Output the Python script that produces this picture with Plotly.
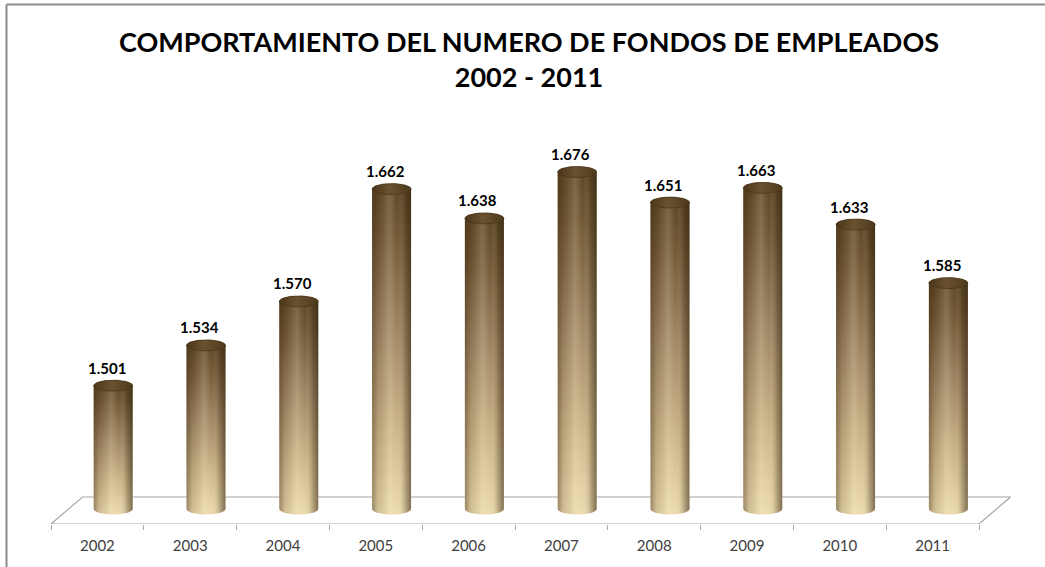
import numpy as np
import plotly.graph_objects as go

# Data
years = ["2002", "2003", "2004", "2005", "2006", "2007", "2008", "2009", "2010", "2011"]
fondos = [1501, 1534, 1570, 1662, 1638, 1676, 1651, 1663, 1633, 1585]
value_labels = ["1.501", "1.534", "1.570", "1.662", "1.638", "1.676", "1.651", "1.663", "1.633", "1.585"]

# Layout geometry
W, H = 1045, 567
M_L, M_R, M_T, M_B = 42, 29, 120, 43
PX_PER_CAT = 92.8
PX_PER_VAL = 1.221
plot_w = W - M_L - M_R
plot_h = H - M_T - M_B

BASE = 1400                       # floor level of the cylinders
FRONT = BASE - 15 / PX_PER_VAL    # front edge of the floor
BACK = BASE + 12 / PX_PER_VAL     # back edge of the floor
DEPTH_DX = 0.34                   # horizontal shift of the floor's back edge
x0 = -0.5 - 9 / PX_PER_CAT
x_range = [x0, x0 + plot_w / PX_PER_CAT]
y_range = [FRONT, FRONT + plot_h / PX_PER_VAL]

OFFSET = 0.17        # cylinders sit mid-depth, slightly right of the label
HALF_W = 0.21        # cylinder radius in category units
ELL = 5.5 / PX_PER_VAL  # ellipse half-height in value units

fig = go.Figure()

# Floor (3D base plane)
fig.add_trace(go.Scatter(
    x=[-0.5, 9.5, 9.5 + DEPTH_DX, -0.5 + DEPTH_DX, -0.5],
    y=[FRONT, FRONT, BACK, BACK, FRONT],
    mode="lines", line=dict(color="#a6a6a6", width=1.2),
    hoverinfo="skip", showlegend=False,
))

t_half = np.linspace(0, np.pi, 40)
t_full = np.linspace(0, 2 * np.pi, 80)

for i, v in enumerate(fondos):
    cx = i + OFFSET
    # body outline: left side up, top back arc, right side down, bottom front arc
    top_arc_x = cx - HALF_W * np.cos(t_half)
    top_arc_y = v + ELL * np.sin(t_half)
    bot_arc_x = cx + HALF_W * np.cos(t_half)
    bot_arc_y = BASE - ELL * np.sin(t_half)
    bx = np.concatenate([top_arc_x, bot_arc_x, [top_arc_x[0]]])
    by = np.concatenate([top_arc_y, bot_arc_y, [top_arc_y[0]]])

    # vertical shading: light at the foot, dark brown at the top
    fig.add_trace(go.Scatter(
        x=bx, y=by, mode="lines", line=dict(width=0),
        fill="toself",
        fillgradient=dict(type="vertical", colorscale=[
            [0.0, "#ecdaae"], [0.25, "#cdb68a"], [0.55, "#a08764"],
            [0.85, "#6f5633"], [1.0, "#5b4424"]]),
        hoverinfo="skip", showlegend=False,
    ))
    # horizontal shading: darker rims, soft highlight left of centre
    fig.add_trace(go.Scatter(
        x=bx, y=by, mode="lines", line=dict(width=0),
        fill="toself",
        fillgradient=dict(type="horizontal", colorscale=[
            [0.0, "rgba(60,40,15,0.45)"], [0.15, "rgba(60,40,15,0.15)"],
            [0.45, "rgba(255,245,215,0.18)"], [0.65, "rgba(255,245,215,0.0)"],
            [0.85, "rgba(50,35,15,0.25)"], [1.0, "rgba(40,28,10,0.55)"]]),
        hoverinfo="skip", showlegend=False,
    ))
    # top cap
    fig.add_trace(go.Scatter(
        x=cx + HALF_W * np.cos(t_full), y=v + ELL * np.sin(t_full),
        mode="lines", line=dict(color="#4a3618", width=0.8),
        fill="toself",
        fillgradient=dict(type="horizontal", colorscale=[
            [0.0, "#4a3519"], [0.45, "#6a5230"], [1.0, "#4d391c"]]),
        hoverinfo="skip", showlegend=False,
    ))
    fig.add_annotation(
        x=cx - 0.07, y=v, text=value_labels[i], showarrow=False,
        yanchor="bottom", yshift=7,
        font=dict(family="Lato", size=15, color="#000000", weight="bold"),
    )

# Boundary ticks on a twin axis
fig.update_layout(xaxis2=dict(
    overlaying="x", side="bottom", range=x_range,
    tickvals=[k - 0.5 for k in range(len(years) + 1)],
    ticks="outside", ticklen=5, tickcolor="#a6a6a6", tickwidth=1,
    showticklabels=False, showgrid=False, zeroline=False, showline=False,
))
fig.add_trace(go.Scatter(x=[0], y=[BASE], xaxis="x2", mode="markers",
                         marker=dict(opacity=0), hoverinfo="skip", showlegend=False))

fig.update_layout(
    width=W, height=H,
    margin=dict(l=M_L, r=M_R, t=M_T, b=M_B),
    paper_bgcolor="white", plot_bgcolor="white",
    title=dict(
        text="COMPORTAMIENTO DEL NUMERO DE FONDOS DE EMPLEADOS<br>2002 - 2011",
        x=529 / W, xanchor="center", y=1 - 52 / H, yanchor="middle",
        font=dict(family="Lato", size=27, color="#000000", weight="bold"),
    ),
    xaxis=dict(
        range=x_range, tickvals=list(range(len(years))), ticktext=years,
        showgrid=False, zeroline=False, showline=False, ticks="",
        tickfont=dict(family="Lato", size=15, color="#404040"),
        ticklabelstandoff=11,
    ),
    yaxis=dict(range=y_range, visible=False, showgrid=False, zeroline=False),
    shapes=[
        dict(type="line", xref="paper", yref="paper",
             x0=(6.5 - M_L) / plot_w, x1=(W - M_L) / plot_w,
             y0=(H - 4.5 - M_B) / plot_h, y1=(H - 4.5 - M_B) / plot_h,
             line=dict(color="#8c8c8c", width=2)),
        dict(type="line", xref="paper", yref="paper",
             x0=(6.5 - M_L) / plot_w, x1=(6.5 - M_L) / plot_w,
             y0=(H - 4.5 - M_B) / plot_h, y1=-M_B / plot_h,
             line=dict(color="#8c8c8c", width=2)),
    ],
    showlegend=False,
)

fig.write_html("out.html")
